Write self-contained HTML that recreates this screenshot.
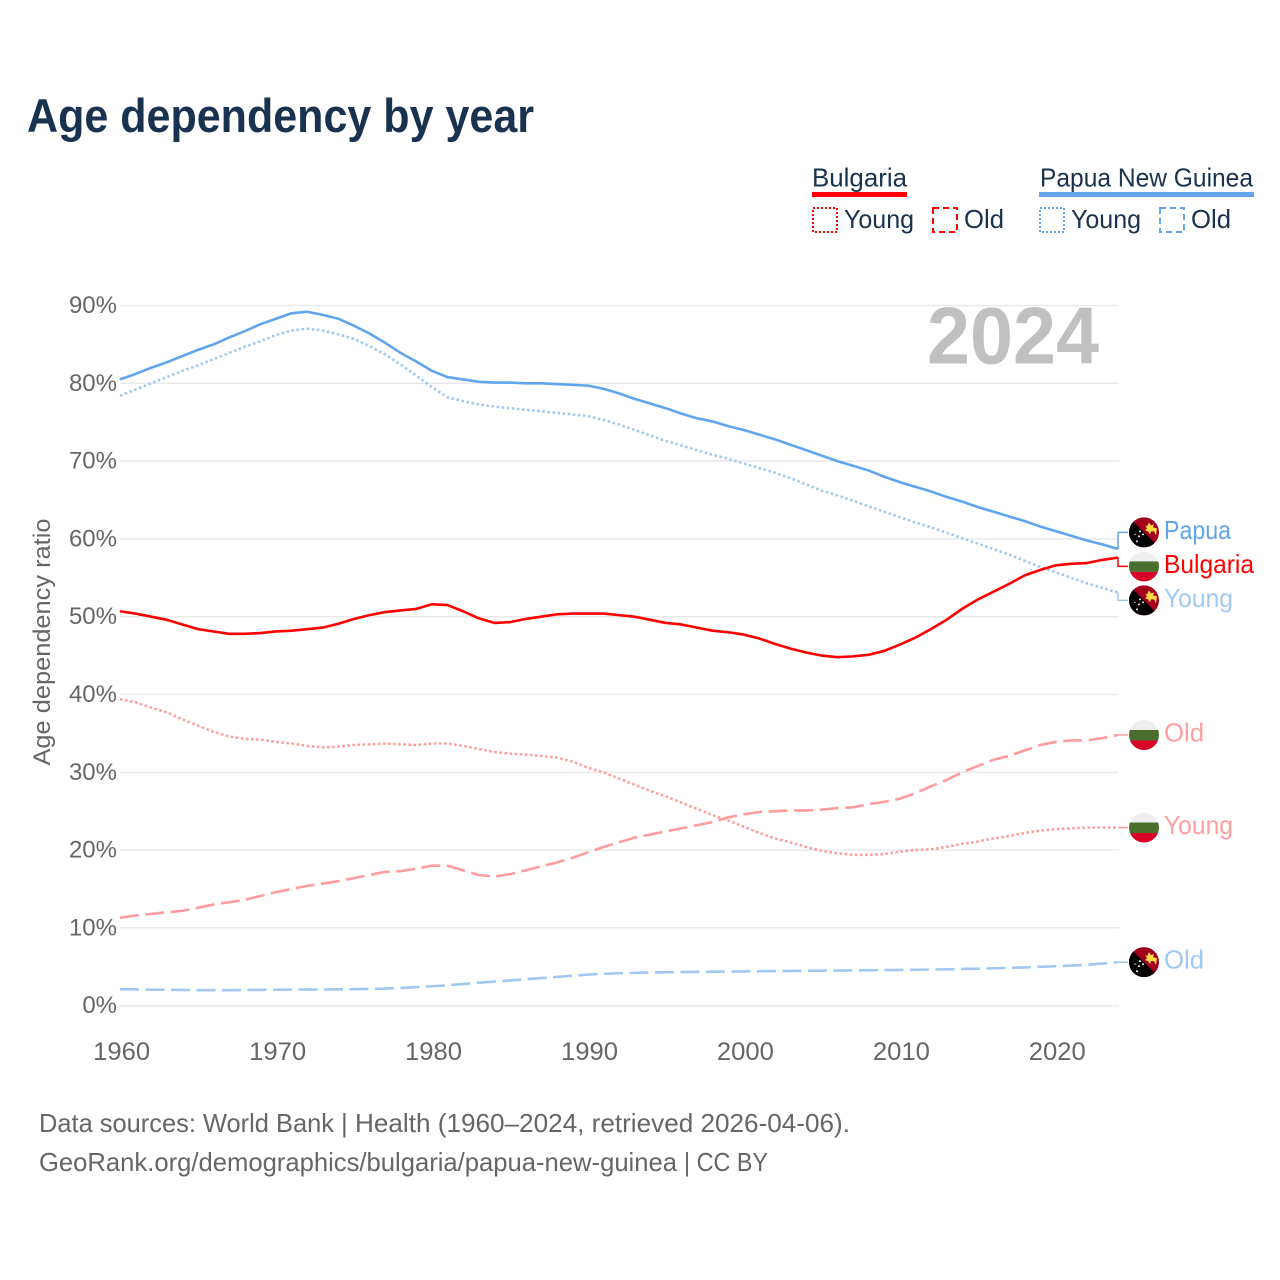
<!DOCTYPE html>
<html lang="en">
<head>
<meta charset="utf-8">
<title>Age dependency by year</title>
<style>
html,body{margin:0;padding:0;background:#fff;}
svg{display:block;font-family:"Liberation Sans",Arial,sans-serif;}
</style>
</head>
<body>
<svg id="chart" xmlns="http://www.w3.org/2000/svg" width="1280" height="1280" viewBox="0 0 1280 1280">
  <defs>
    <clipPath id="flag-clip"><circle cx="0" cy="0" r="15"/></clipPath>
    <g id="flag-bg" clip-path="url(#flag-clip)">
      <rect x="-15" y="-15" width="30" height="10" fill="#efefef"/>
      <rect x="-15" y="-5" width="30" height="10.5" fill="#496e2d"/>
      <rect x="-15" y="5.5" width="30" height="10" fill="#d80027"/>
    </g>
    <g id="flag-pg" clip-path="url(#flag-clip)">
      <rect x="-15" y="-15" width="30" height="30" fill="#a2001d"/>
      <path d="M-15,-15 L15,15 L-15,15 Z" fill="#000"/>
      <path d="M1,-7 L3,-6 L5,-10 L7,-7 L10,-8 L9,-5 L13,-4 L12,3 L10,-1 L7,-1 L6,2 L4,-1 L1,-2 L3,-4 Z" fill="#ffda44"/>
      <g fill="#eeeeee">
        <circle cx="-4" cy="-1" r="1"/><circle cx="-1" cy="2" r="1"/><circle cx="-5" cy="4" r="1"/>
        <circle cx="-7" cy="9" r="1"/><circle cx="-9" cy="2" r="0.7"/>
      </g>
    </g>
  </defs>

  <text x="27" y="132" font-size="47" font-weight="700" fill="#18324f" textLength="507" lengthAdjust="spacingAndGlyphs">Age dependency by year</text>

  <g>
    <g>
      <text x="812" y="186.5" font-size="26" fill="#18324f" textLength="95" lengthAdjust="spacingAndGlyphs">Bulgaria</text>
      <rect x="812" y="192" width="95" height="5" fill="#ff0000"/>
      <rect x="813" y="208" width="24" height="24" fill="none" stroke="#ff0000" stroke-width="2" stroke-dasharray="2 2"/>
      <text x="844" y="228" font-size="26" fill="#18324f" textLength="70" lengthAdjust="spacingAndGlyphs">Young</text>
      <rect x="933" y="208" width="24" height="24" fill="none" stroke="#ff0000" stroke-width="2" stroke-dasharray="6 4"/>
      <text x="964" y="228" font-size="26" fill="#18324f" textLength="40" lengthAdjust="spacingAndGlyphs">Old</text>
    </g>
    <g>
      <text x="1040" y="186.5" font-size="26" fill="#18324f" textLength="213" lengthAdjust="spacingAndGlyphs">Papua New Guinea</text>
      <rect x="1039" y="192" width="215" height="5" fill="#60a5ee"/>
      <rect x="1040" y="208" width="24" height="24" fill="none" stroke="#60a5ee" stroke-width="2" stroke-dasharray="2 2"/>
      <text x="1071" y="228" font-size="26" fill="#18324f" textLength="70" lengthAdjust="spacingAndGlyphs">Young</text>
      <rect x="1160" y="208" width="24" height="24" fill="none" stroke="#60a5ee" stroke-width="2" stroke-dasharray="6 4"/>
      <text x="1191" y="228" font-size="26" fill="#18324f" textLength="40" lengthAdjust="spacingAndGlyphs">Old</text>
    </g>
  </g>

  <g id="grid"></g>
  <text x="927" y="363.5" font-size="81" font-weight="700" fill="#c0c0c0" textLength="172" lengthAdjust="spacingAndGlyphs">2024</text>
  <g id="y-axis"></g>
  <g id="x-axis"></g>
  <text transform="translate(50,642) rotate(-90)" text-anchor="middle" font-size="24" fill="#666666" textLength="247" lengthAdjust="spacingAndGlyphs">Age dependency ratio</text>
  <g id="series"></g>
  <g id="end-labels"></g>

  <g font-size="26" fill="#666666">
    <text x="39" y="1132" textLength="295" lengthAdjust="spacingAndGlyphs">Data sources: World Bank</text>
    <text x="341" y="1132" textLength="509" lengthAdjust="spacingAndGlyphs">| Health (1960–2024, retrieved 2026-04-06).</text>
  </g>
  <g font-size="26" fill="#666666">
    <text x="39" y="1171" textLength="638" lengthAdjust="spacingAndGlyphs">GeoRank.org/demographics/bulgaria/papua-new-guinea</text>
    <text x="684" y="1171" textLength="84" lengthAdjust="spacingAndGlyphs">| CC BY</text>
  </g>
</svg>

<script>
var firstYear = 1960;
var lastYear = 2024;
var yTicks = [0, 10, 20, 30, 40, 50, 60, 70, 80, 90];
var xTicks = [1960, 1970, 1980, 1990, 2000, 2010, 2020];

var pngTotal = [80.5,81.2,82,82.7,83.5,84.3,85,85.9,86.7,87.6,88.3,89,89.2,88.8,88.3,87.4,86.4,85.2,83.9,82.8,81.6,80.8,80.5,80.2,80.1,80.1,80,80,79.9,79.8,79.7,79.3,78.7,78,77.4,76.8,76.1,75.5,75.1,74.5,74,73.4,72.8,72.1,71.4,70.7,70,69.4,68.8,68,67.3,66.7,66.1,65.4,64.8,64.1,63.5,62.9,62.3,61.6,61,60.4,59.8,59.3,58.7];
var pngYoung = [78.4,79.2,80,80.8,81.6,82.3,83.1,83.9,84.7,85.4,86.2,86.8,87,86.8,86.3,85.7,84.8,83.7,82.4,81,79.5,78.2,77.7,77.3,77,76.8,76.6,76.4,76.2,76,75.8,75.3,74.7,74,73.3,72.6,72,71.4,70.8,70.3,69.7,69.1,68.5,67.8,67,66.2,65.6,64.9,64.2,63.5,62.8,62.1,61.5,60.8,60.1,59.4,58.7,58,57.2,56.4,55.7,55,54.3,53.7,53.1];
var pngOld = [2.1,2.1,2.05,2.05,2.02,2,2,2,2.02,2.03,2.05,2.07,2.08,2.08,2.1,2.12,2.15,2.2,2.28,2.38,2.5,2.62,2.78,2.95,3.1,3.25,3.4,3.55,3.7,3.85,4,4.1,4.17,4.22,4.27,4.3,4.32,4.35,4.37,4.38,4.4,4.43,4.45,4.47,4.49,4.5,4.52,4.54,4.56,4.58,4.6,4.62,4.64,4.68,4.72,4.76,4.8,4.86,4.92,5,5.07,5.15,5.25,5.42,5.6];
var bgTotal = [50.7,50.4,50,49.6,49,48.4,48.1,47.8,47.8,47.9,48.1,48.2,48.4,48.6,49.1,49.7,50.2,50.6,50.8,51,51.6,51.5,50.7,49.8,49.2,49.3,49.7,50,50.3,50.4,50.4,50.4,50.2,50,49.6,49.2,49,48.6,48.2,48,47.7,47.2,46.5,45.9,45.4,45,44.8,44.9,45.1,45.6,46.4,47.3,48.4,49.6,51,52.2,53.2,54.2,55.3,56,56.6,56.8,56.9,57.3,57.6];
var bgYoung = [39.4,39,38.3,37.7,36.8,36,35.2,34.6,34.3,34.2,33.9,33.7,33.4,33.2,33.3,33.5,33.6,33.7,33.6,33.5,33.7,33.7,33.4,33,32.6,32.4,32.3,32.1,31.9,31.4,30.6,30,29.2,28.4,27.6,26.9,26.1,25.3,24.5,23.8,23,22.2,21.5,21,20.4,19.9,19.6,19.4,19.4,19.5,19.8,20,20.1,20.4,20.8,21.1,21.5,21.8,22.2,22.5,22.7,22.8,22.9,22.9,22.9];
var bgOld = [11.3,11.6,11.8,12,12.2,12.6,13,13.3,13.6,14.1,14.6,15,15.4,15.7,16,16.4,16.8,17.2,17.3,17.6,18,18,17.4,16.8,16.6,16.9,17.4,17.9,18.4,19,19.7,20.4,21,21.6,22,22.4,22.8,23.2,23.6,24.2,24.6,24.9,25,25.1,25.1,25.2,25.4,25.5,25.9,26.2,26.6,27.3,28.2,29,30,30.8,31.6,32.1,32.8,33.5,33.9,34.1,34.1,34.4,34.8];

var SVGNS = "http://www.w3.org/2000/svg";
function mk(tag, parent, attrs) {
  var el = document.createElementNS(SVGNS, tag);
  for (var k in attrs) { el.setAttribute(k, attrs[k]); }
  parent.appendChild(el);
  return el;
}
function xScale(year) { return 120 + (year - firstYear) * (998 / (lastYear - firstYear)); }
function yScale(value) { return 1005.7 - value * 7.78; }

var grid = document.getElementById("grid");
var yAxis = document.getElementById("y-axis");
var xAxis = document.getElementById("x-axis");
var seriesGroup = document.getElementById("series");
var endGroup = document.getElementById("end-labels");

yTicks.forEach(function (t) {
  var line = mk("line", grid, {x1: 120, x2: 1119, y1: yScale(t), y2: yScale(t), stroke: "#e9e9e9", "stroke-width": 1.5});
  
  
  var label = mk("text", yAxis, {x: 117, y: yScale(t) + 7.5, "text-anchor": "end", "font-size": 24, fill: "#666666"});
  
  
  label.textContent = t + "%";
});

xTicks.forEach(function (t) {
  var label = mk("text", xAxis, {x: xScale(t) + 1.7, y: 1060, "text-anchor": "middle", "font-size": 25, fill: "#666666", textLength: 57, lengthAdjust: "spacingAndGlyphs"});
  
  
  label.textContent = t;
});

var solid = "";
var dotted = "2.5 2.6";
var dashed = "19 6.5";
var blue = "#60a5ee";
var red = "#ff0000";
var blueSoft = "#a0c8f3";
var redSoft = "#ff9c9e";

var seriesList = [
  {name: "bulgaria-old", values: bgOld, color: redSoft, dash: dashed, label: "Old", flag: "#flag-bg", textColor: "#ff9fa1"},
  {name: "bulgaria-young", values: bgYoung, color: redSoft, dash: dotted, label: "Young", flag: "#flag-bg", textColor: "#ff9fa1"},
  {name: "png-old", values: pngOld, color: blueSoft, dash: dashed, label: "Old", flag: "#flag-pg", textColor: "#a0c8f3"},
  {name: "png-young", values: pngYoung, color: blueSoft, dash: dotted, label: "Young", flag: "#flag-pg", textColor: "#a0c8f3"},
  {name: "bulgaria-total", values: bgTotal, color: red, dash: solid, label: "Bulgaria", flag: "#flag-bg", textColor: "#ff0000"},
  {name: "png-total", values: pngTotal, color: blue, dash: solid, label: "Papua", flag: "#flag-pg", textColor: "#60a5ee"}
];

/* label dodge: stack end labels that would overlap around the mean of their cluster */
function dodge(list, gap) {
  var items = list.slice().sort(function (a, b) { return a.endY - b.endY; });
  var clusters = items.map(function (it) { return {items: [it], sum: it.endY}; });
  var merged = true;
  while (merged) {
    merged = false;
    for (var i = 0; i < clusters.length - 1; i++) {
      var a = clusters[i], b = clusters[i + 1];
      var aMid = a.sum / a.items.length, bMid = b.sum / b.items.length;
      var aBottom = aMid + (a.items.length - 1) * gap / 2;
      var bTop = bMid - (b.items.length - 1) * gap / 2;
      if (bTop - aBottom < gap) {
        a.items = a.items.concat(b.items);
        a.sum += b.sum;
        clusters.splice(i + 1, 1);
        merged = true;
        break;
      }
    }
  }
  clusters.forEach(function (c) {
    var mid = c.sum / c.items.length;
    c.items.forEach(function (it, idx) {
      it.labelY = mid + (idx - (c.items.length - 1) / 2) * gap;
    });
  });
}

seriesList.forEach(function (s) {
  s.endY = yScale(s.values[s.values.length - 1]);
  var d = s.values.map(function (v, i) {
    return (i ? "L" : "M") + xScale(firstYear + i).toFixed(2) + "," + yScale(v).toFixed(2);
  }).join(" ");
  var path = mk("path", seriesGroup, {d: d, fill: "none", stroke: s.color, "stroke-width": 2.6, "stroke-linejoin": "round"});
  if (s.dash) { path.setAttribute("stroke-dasharray", s.dash); }
  
  
});

dodge(seriesList, 34);

seriesList.forEach(function (s) {
  var xEnd = xScale(lastYear);
  var leader = mk("path", endGroup, {
    d: "M" + xEnd + "," + s.endY + " L" + xEnd + "," + s.labelY + " L" + (xEnd + 10) + "," + s.labelY,
    fill: "none", stroke: s.color, "stroke-width": 1.5
  });
  
  

  var flag = mk("use", endGroup, {href: s.flag, transform: "translate(1144," + s.labelY + ")"});
  
  

  var widths = {Papua: 67, Bulgaria: 90, Young: 69, Old: 40};
  var text = mk("text", endGroup, {
    x: 1164, y: s.labelY + 6.5, "font-size": 26, fill: s.textColor,
    textLength: widths[s.label], lengthAdjust: "spacingAndGlyphs"
  });
  
  
  text.textContent = s.label;
});
</script>
</body>
</html>
